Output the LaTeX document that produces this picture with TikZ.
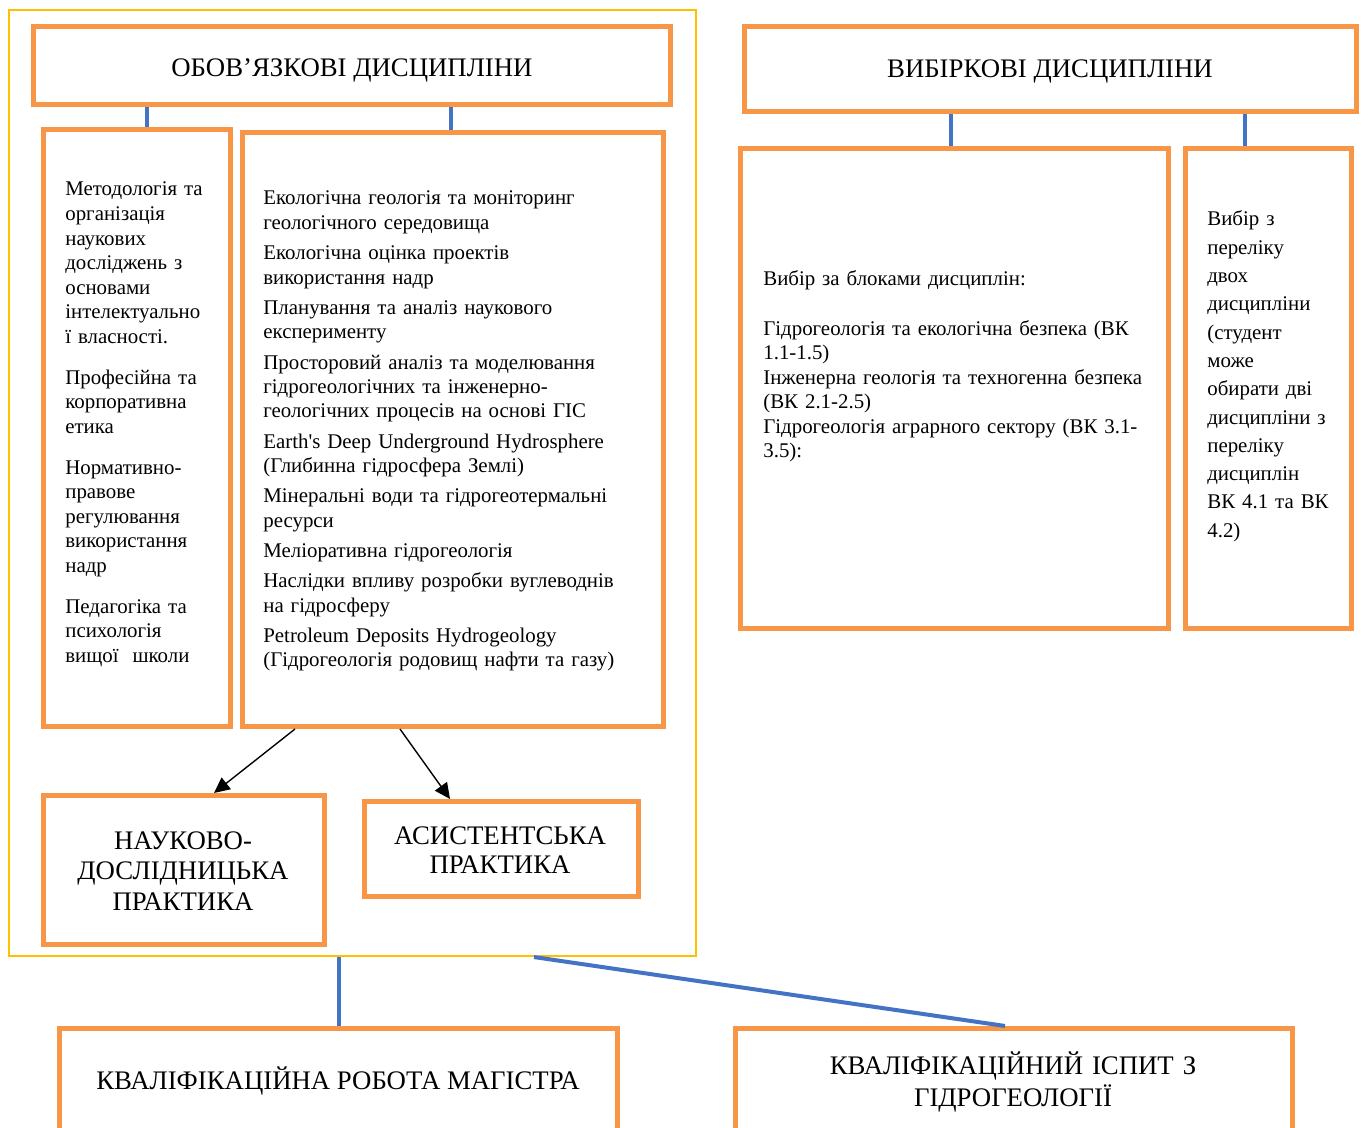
\documentclass[tikz,border=0pt]{standalone}
\usepackage{fontspec}
\setmainfont{Liberation Serif}[Ligatures=TeXOff]
\usetikzlibrary{arrows.meta}
\definecolor{obox}{HTML}{F79646}
\definecolor{bline}{HTML}{4472C4}
\definecolor{yframe}{HTML}{FFC000}
\begin{document}
\begin{tikzpicture}[x=0.575pt,y=-0.575pt,
  box/.style n args={2}{draw=obox,line width=2.9pt,rectangle,inner sep=0pt,
     minimum width=#1*0.575pt,minimum height=#2*0.575pt},
  frame/.style n args={2}{draw=yframe,line width=1.2pt,rectangle,inner sep=0pt,
     minimum width=#1*0.575pt,minimum height=#2*0.575pt},
  body/.style={inner sep=0pt,align=left,font=\fontsize{12}{14.1}\selectfont},
  head/.style={inner sep=0pt,align=center,font=\fontsize{15.4}{17.8}\selectfont},
  conn/.style={draw=bline,line width=2pt},
  arr/.style={draw=black,line width=0.8pt,-{Triangle[length=9pt,width=8.5pt]}}]
\useasboundingbox (0,0) rectangle (1365,1128);
\clip (0,0) rectangle (1365,1128);
\fill[white] (0,0) rectangle (1365,1128);

% yellow frame
\node[frame={687}{946}] (fr) at (352.5,483) {};

% boxes
\node[box={637}{78}] (ob) at (352,65.5) {};
\node[box={612}{85}] (vb) at (1050.5,69) {};
\node[box={187}{597}] (lb) at (137,428) {};
\node[box={421}{594}] (mb) at (453,429.5) {};
\node[box={428}{480}] (ab) at (954.5,388.5) {};
\node[box={166}{480}] (fb) at (1268.5,388.5) {};
\node[box={281}{149}] (nb) at (184,870) {};
\node[box={274}{95}] (pb) at (501.5,849) {};
\node[box={558}{140}] (kr) at (338.5,1098.5) {};
\node[box={557}{140}] (ki) at (1014,1098.5) {};

% headings
\node[head,anchor=base] (obt) at (352,77) {ОБОВ’ЯЗКОВІ ДИСЦИПЛІНИ};
\node[head,anchor=base] (vbt) at (1050,78) {ВИБІРКОВІ ДИСЦИПЛІНИ};
\node[head,anchor=base,text width=200pt] (nbt) at (183,849) {НАУКОВО-\\ДОСЛІДНИЦЬКА\\ПРАКТИКА};
\node[head,anchor=base,text width=200pt] (pbt) at (500,844) {АСИСТЕНТСЬКА\\[-0.8pt]ПРАКТИКА};
\node[head,anchor=base] (krt) at (338,1089) {КВАЛІФІКАЦІЙНА РОБОТА МАГІСТРА};
\node[head,anchor=base,text width=300pt] (kit) at (1013,1074) {КВАЛІФІКАЦІЙНИЙ ІСПИТ З\\[0.6pt]ГІДРОГЕОЛОГІЇ};

% body texts
\node[body,anchor=base west,text width=120pt] (lbt) at (65,196) {Методологія та\\організація\\наукових\\досліджень з\\основами\\інтелектуально\\ї власності.\\[9.5pt]
Професійна та\\корпоративна\\етика\\[9.5pt]
Нормативно-\\правове\\регулювання\\використання\\надр\\[9.5pt]
Педагогіка та\\психологія\\вищої\ \ школи};

\node[body,anchor=base west,text width=235pt,font=\fontsize{12}{14.0}\selectfont] (mbt) at (263,205) {Екологічна геологія та моніторинг\\геологічного середовища\\[3.45pt]
Екологічна оцінка проектів\\використання надр\\[3.45pt]
Планування та аналіз наукового\\експерименту\\[3.45pt]
Просторовий аналіз та моделювання\\гідрогеологічних та інженерно-\\геологічних процесів на основі ГІС\\[3.45pt]
Earth's Deep Underground Hydrosphere\\(Глибинна гідросфера Землі)\\[3.45pt]
Мінеральні води та гідрогеотермальні\\ресурси\\[3.45pt]
Меліоративна гідрогеологія\\[3.45pt]
Наслідки впливу розробки вуглеводнів\\на гідросферу\\[3.45pt]
Petroleum Deposits Hydrogeology\\(Гідрогеологія родовищ нафти та газу)};

\node[body,anchor=base west,text width=240pt] (abt) at (763,286) {Вибір за блоками дисциплін:\\[14.1pt]
Гідрогеологія та екологічна безпека (ВК\\1.1-1.5)\\
Інженерна геологія та техногенна безпека\\(ВК 2.1-2.5)\\
Гідрогеологія аграрного сектору (ВК 3.1-\\3.5):};

\node[body,anchor=base west,text width=90pt,font=\fontsize{12}{16.27}\selectfont] (fbt) at (1207,226) {Вибір з\\переліку\\двох\\дисципліни\\(студент\\може\\обирати дві\\дисципліни з\\переліку\\дисциплін\\ВК 4.1 та ВК\\4.2)};

% blue connectors
\draw[conn] (ob.south -| 147,0) -- (lb.north -| 147,0);
\draw[conn] (ob.south -| 451,0) -- (mb.north -| 451,0);
\draw[conn] (vb.south -| 951,0) -- (ab.north -| 951,0);
\draw[conn] (vb.south -| 1245,0) -- (fb.north -| 1245,0);
\draw[conn] (fr.south -| 339,0) -- (kr.north -| 339,0);
\draw[conn,line width=2.3pt] (fr.south -| 534,0) -- (ki.north -| 1005,0);

% arrows
\draw[arr] (mb.south -| 295,0) -- (nb.north -| 214,0);
\draw[arr] (mb.south -| 400,0) -- (pb.north -| 450,0);
\end{tikzpicture}
\end{document}
